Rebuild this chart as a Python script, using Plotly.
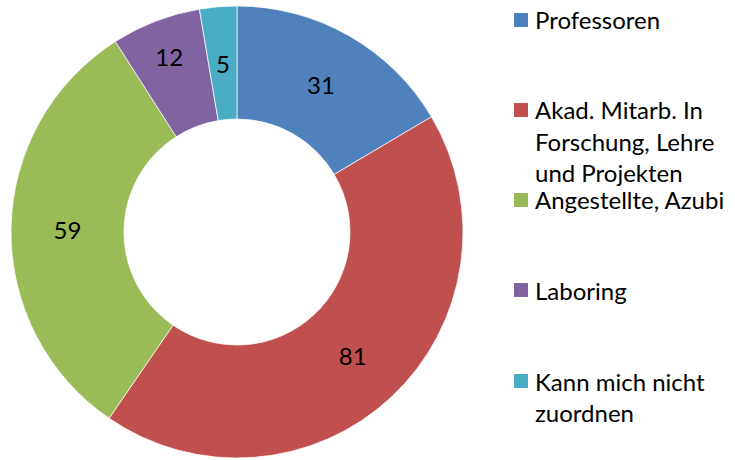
import math
import plotly.graph_objects as go

labels = ["Professoren", "Akad. Mitarb. In Forschung, Lehre und Projekten",
          "Angestellte, Azubi", "Laboring", "Kann mich nicht zuordnen"]
legend_lines = [["Professoren"],
                ["Akad. Mitarb. In", "Forschung, Lehre", "und Projekten"],
                ["Angestellte, Azubi"],
                ["Laboring"],
                ["Kann mich nicht", "zuordnen"]]
values = [31, 81, 59, 12, 5]
colors = ["#4F81BD", "#C0504D", "#9BBB59", "#8064A2", "#4BACC6"]

W, H = 735, 460
FONT = "Lato"
FS = 24
HOLE = 0.5

# pie placement (pixels)
px0, px1, py0, py1 = 11, 463, 5, 459
total = sum(values)
small = [v / total < 0.04 for v in values]

fig = go.Figure()
fig.add_trace(go.Pie(
    labels=labels, values=values, sort=False, direction="clockwise", rotation=0,
    hole=HOLE,
    marker=dict(colors=colors, line=dict(color="white", width=0.7)),
    texttemplate=["" if s else "%{value}" for s in small],
    textposition="inside", insidetextorientation="horizontal",
    textfont=dict(family=FONT, size=FS, color="#000000"),
    domain=dict(x=[px0 / W, px1 / W], y=[1 - py1 / H, 1 - py0 / H]),
    showlegend=False, hoverinfo="label+value",
))

annotations = []
# labels for thin slices: centred in the ring at the slice's mid-angle
cx, cy0 = (px0 + px1) / 2, (py0 + py1) / 2
R = min(px1 - px0, py1 - py0) / 2
rmid = R * (1 + HOLE) / 2
cum = 0
for v, s in zip(values, small):
    mid = (cum + v / 2) / total * 2 * math.pi
    cum += v
    if s:
        x = cx + rmid * math.sin(mid)
        y = cy0 - rmid * math.cos(mid)
        annotations.append(dict(xref="paper", yref="paper", x=x / W, y=1 - y / H,
                                xanchor="center", yanchor="middle", text=str(v), showarrow=False,
                                font=dict(family=FONT, size=FS, color="#000000")))

shapes = []
centers = [20, 110, 200, 290, 381]
line_gap = 31.5
for lines, col, cy in zip(legend_lines, colors, centers):
    shapes.append(dict(type="rect", xref="paper", yref="paper",
                       x0=514 / W, x1=528 / W, y0=1 - (cy + 7) / H, y1=1 - (cy - 7) / H,
                       fillcolor=col, line=dict(width=0)))
    for i, t in enumerate(lines):
        annotations.append(dict(xref="paper", yref="paper", x=533 / W, y=1 - (cy + i * line_gap) / H,
                                xanchor="left", yanchor="middle", text=t, showarrow=False,
                                font=dict(family=FONT, size=FS, color="#000000")))

fig.update_layout(
    width=W, height=H, margin=dict(l=0, r=0, t=0, b=0),
    paper_bgcolor="white", plot_bgcolor="white",
    uniformtext=dict(minsize=FS, mode="show"),
    shapes=shapes, annotations=annotations,
)
fig.write_html("out.html", config={"displayModeBar": False},
               post_script="document.body.style.margin='0';")
